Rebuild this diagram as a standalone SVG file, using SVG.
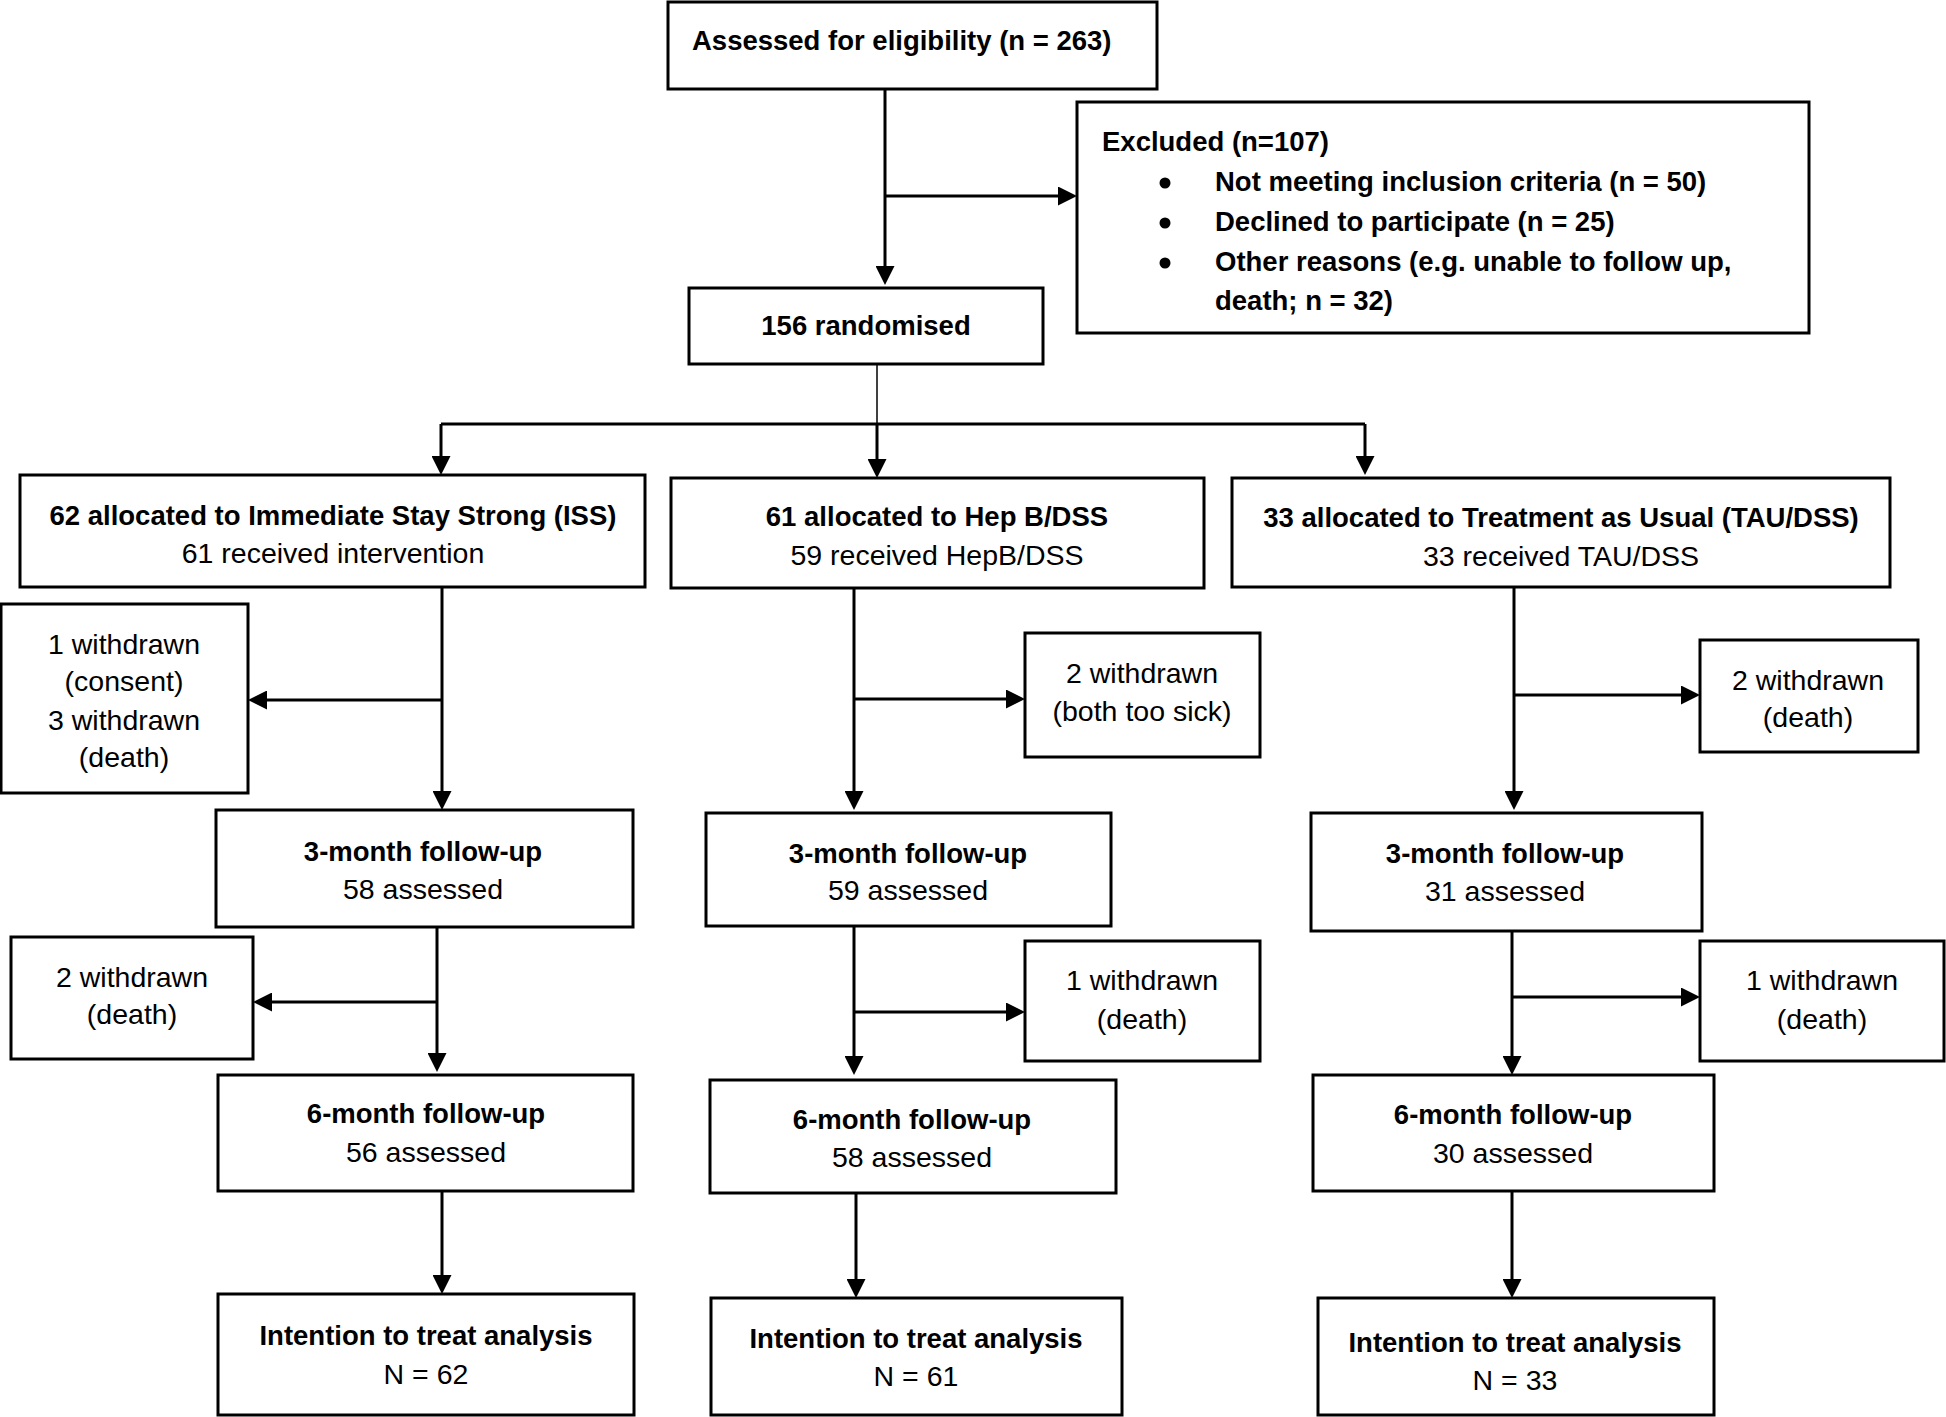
<svg xmlns="http://www.w3.org/2000/svg" width="1946" height="1417" viewBox="0 0 1946 1417">
<style>
.box{fill:#fff;stroke:#000;stroke-width:3}
text{font-family:"Liberation Sans",Arial,sans-serif;font-size:28.5px;fill:#000}
.b{font-weight:bold;font-size:27.5px}
.c{text-anchor:middle}
.ln{stroke:#000;stroke-width:3;fill:none}
.thin{stroke:#000;stroke-width:1.5;fill:none}
</style>
<defs>
<marker id="ah" markerUnits="userSpaceOnUse" markerWidth="19" markerHeight="19" refX="9" refY="9.5" orient="auto">
<path d="M0,0 L19,9.5 L0,19 z" fill="#000"/>
</marker>
</defs>
<rect width="1946" height="1417" fill="#fff"/>
<g id="connectors">
<line class="ln" x1="885" y1="89" x2="885" y2="275" marker-end="url(#ah)"/>
<line class="ln" x1="885" y1="196" x2="1067" y2="196" marker-end="url(#ah)"/>
<line class="thin" x1="877" y1="364" x2="877" y2="424"/>
<line class="ln" x1="441" y1="424" x2="1365" y2="424"/>
<line class="ln" x1="441" y1="424" x2="441" y2="465" marker-end="url(#ah)"/>
<line class="ln" x1="877" y1="424" x2="877" y2="468" marker-end="url(#ah)"/>
<line class="ln" x1="1365" y1="424" x2="1365" y2="465" marker-end="url(#ah)"/>
<line class="ln" x1="442" y1="587" x2="442" y2="800" marker-end="url(#ah)"/>
<line class="ln" x1="442" y1="700" x2="258" y2="700" marker-end="url(#ah)"/>
<line class="ln" x1="437" y1="927" x2="437" y2="1062" marker-end="url(#ah)"/>
<line class="ln" x1="437" y1="1002" x2="263" y2="1002" marker-end="url(#ah)"/>
<line class="ln" x1="442" y1="1191" x2="442" y2="1284" marker-end="url(#ah)"/>
<line class="ln" x1="854" y1="588" x2="854" y2="800" marker-end="url(#ah)"/>
<line class="ln" x1="854" y1="699" x2="1015" y2="699" marker-end="url(#ah)"/>
<line class="ln" x1="854" y1="926" x2="854" y2="1065" marker-end="url(#ah)"/>
<line class="ln" x1="854" y1="1012" x2="1015" y2="1012" marker-end="url(#ah)"/>
<line class="ln" x1="856" y1="1193" x2="856" y2="1288" marker-end="url(#ah)"/>
<line class="ln" x1="1514" y1="587" x2="1514" y2="800" marker-end="url(#ah)"/>
<line class="ln" x1="1514" y1="695" x2="1690" y2="695" marker-end="url(#ah)"/>
<line class="ln" x1="1512" y1="931" x2="1512" y2="1065" marker-end="url(#ah)"/>
<line class="ln" x1="1512" y1="997" x2="1690" y2="997" marker-end="url(#ah)"/>
<line class="ln" x1="1512" y1="1191" x2="1512" y2="1288" marker-end="url(#ah)"/>
</g>
<g id="assessed">
<rect class="box" x="668" y="2" width="489" height="87"/>
<text class="b" x="692" y="50">Assessed for eligibility (n = 263)</text>
</g>
<g id="excluded">
<rect class="box" x="1077" y="102" width="732" height="231"/>
<text class="b" x="1102" y="151">Excluded (n=107)</text>
<circle cx="1165" cy="183" r="5.5"/>
<circle cx="1165" cy="223" r="5.5"/>
<circle cx="1165" cy="263" r="5.5"/>
<text class="b" x="1215" y="191">Not meeting inclusion criteria (n = 50)</text>
<text class="b" x="1215" y="231">Declined to participate (n = 25)</text>
<text class="b" x="1215" y="271">Other reasons (e.g. unable to follow up,</text>
<text class="b" x="1215" y="310">death; n = 32)</text>
</g>
<g id="randomised">
<rect class="box" x="689" y="288" width="354" height="76"/>
<text class="b c" x="866" y="335">156 randomised</text>
</g>
<g id="iss">
<rect class="box" x="20" y="475" width="625" height="112"/>
<text class="b c" x="333" y="525">62 allocated to Immediate Stay Strong (ISS)</text>
<text class="c" x="333" y="563">61 received intervention</text>
</g>
<g id="hepb">
<rect class="box" x="671" y="478" width="533" height="110"/>
<text class="b c" x="937" y="526">61 allocated to Hep B/DSS</text>
<text class="c" x="937" y="565">59 received HepB/DSS</text>
</g>
<g id="tau">
<rect class="box" x="1232" y="478" width="658" height="109"/>
<text class="b c" x="1561" y="527">33 allocated to Treatment as Usual (TAU/DSS)</text>
<text class="c" x="1561" y="566">33 received TAU/DSS</text>
</g>
<g id="iss-w1">
<rect class="box" x="1" y="604" width="247" height="189"/>
<text class="c" x="124" y="654">1 withdrawn</text>
<text class="c" x="124" y="691">(consent)</text>
<text class="c" x="124" y="730">3 withdrawn</text>
<text class="c" x="124" y="767">(death)</text>
</g>
<g id="iss-3m">
<rect class="box" x="216" y="810" width="417" height="117"/>
<text class="b c" x="423" y="861">3-month follow-up</text>
<text class="c" x="423" y="899">58 assessed</text>
</g>
<g id="iss-w2">
<rect class="box" x="11" y="937" width="242" height="122"/>
<text class="c" x="132" y="987">2 withdrawn</text>
<text class="c" x="132" y="1024">(death)</text>
</g>
<g id="iss-6m">
<rect class="box" x="218" y="1075" width="415" height="116"/>
<text class="b c" x="426" y="1123">6-month follow-up</text>
<text class="c" x="426" y="1162">56 assessed</text>
</g>
<g id="iss-itt">
<rect class="box" x="218" y="1294" width="416" height="121"/>
<text class="b c" x="426" y="1345">Intention to treat analysis</text>
<text class="c" x="426" y="1384">N = 62</text>
</g>
<g id="hepb-w1">
<rect class="box" x="1025" y="633" width="235" height="124"/>
<text class="c" x="1142" y="683">2 withdrawn</text>
<text class="c" x="1142" y="721">(both too sick)</text>
</g>
<g id="hepb-3m">
<rect class="box" x="706" y="813" width="405" height="113"/>
<text class="b c" x="908" y="863">3-month follow-up</text>
<text class="c" x="908" y="900">59 assessed</text>
</g>
<g id="hepb-w2">
<rect class="box" x="1025" y="941" width="235" height="120"/>
<text class="c" x="1142" y="990">1 withdrawn</text>
<text class="c" x="1142" y="1029">(death)</text>
</g>
<g id="hepb-6m">
<rect class="box" x="710" y="1080" width="406" height="113"/>
<text class="b c" x="912" y="1129">6-month follow-up</text>
<text class="c" x="912" y="1167">58 assessed</text>
</g>
<g id="hepb-itt">
<rect class="box" x="711" y="1298" width="411" height="117"/>
<text class="b c" x="916" y="1348">Intention to treat analysis</text>
<text class="c" x="916" y="1386">N = 61</text>
</g>
<g id="tau-w1">
<rect class="box" x="1700" y="640" width="218" height="112"/>
<text class="c" x="1808" y="690">2 withdrawn</text>
<text class="c" x="1808" y="727">(death)</text>
</g>
<g id="tau-3m">
<rect class="box" x="1311" y="813" width="391" height="118"/>
<text class="b c" x="1505" y="863">3-month follow-up</text>
<text class="c" x="1505" y="901">31 assessed</text>
</g>
<g id="tau-w2">
<rect class="box" x="1700" y="941" width="244" height="120"/>
<text class="c" x="1822" y="990">1 withdrawn</text>
<text class="c" x="1822" y="1029">(death)</text>
</g>
<g id="tau-6m">
<rect class="box" x="1313" y="1075" width="401" height="116"/>
<text class="b c" x="1513" y="1124">6-month follow-up</text>
<text class="c" x="1513" y="1163">30 assessed</text>
</g>
<g id="tau-itt">
<rect class="box" x="1318" y="1298" width="396" height="117"/>
<text class="b c" x="1515" y="1352">Intention to treat analysis</text>
<text class="c" x="1515" y="1390">N = 33</text>
</g>
</svg>
